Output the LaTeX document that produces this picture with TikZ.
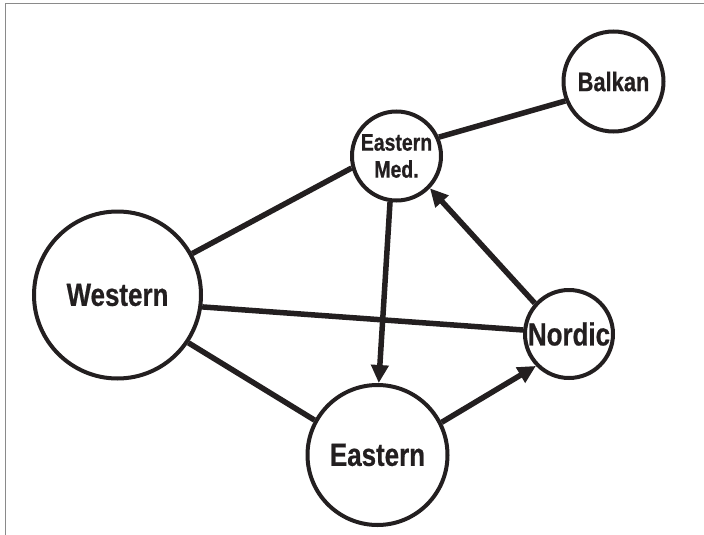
\documentclass[tikz,border=0pt]{standalone}
\usepackage{fontspec}
\setmainfont{Liberation Sans}[FakeStretch=0.81, BoldFeatures={FakeBold=0.6}]
\usetikzlibrary{arrows.meta}
\definecolor{ink}{HTML}{231F20}
\definecolor{framegray}{HTML}{8A8A8A}
\tikzset{
  region/.style={circle, draw=ink, line width=4pt, inner sep=0pt, text=ink, font=\bfseries, align=center},
  link/.style={draw=ink, line width=5.5pt},
  flow/.style={link, -{Triangle[length=18pt,width=17pt]}},
}
\begin{document}
\begin{tikzpicture}[x=1pt,y=-1pt]
\useasboundingbox (0,0) rectangle (704,535);
\coordinate (f1) at (704,4);
\coordinate (f2) at (5,4);
\coordinate (f3) at (5,535);
\draw[framegray, line width=1pt] (f1) -- (f2) -- (f3);

\node[region, minimum size=167pt, font=\bfseries\fontsize{32}{36}\selectfont] (west) at (117.5,295) {Western};
\node[region, minimum size=140pt, font=\bfseries\fontsize{32}{36}\selectfont] (east) at (377.5,455) {Eastern};
\node[region, minimum size=88pt, font=\bfseries\fontsize{32}{36}\selectfont] (nord) at (569,334) {Nordic};
\node[region, minimum size=89pt, font=\bfseries\fontsize{24}{27}\selectfont] (emed) at (396.5,156) {Eastern\\Med.};
\node[region, minimum size=100pt, font=\bfseries\fontsize{27}{30}\selectfont] (balk) at (613.5,81.5) {Balkan};

\draw[link] (west.29) -- (emed.195);
\draw[link] (west.-8) -- (nord.175);
\draw[link] (west.-34) -- (east.151);
\draw[link] (emed.24) -- (balk.202);
\draw[flow] (emed.-98) -- (east.89);
\draw[flow] (nord.138) -- (emed.-44);
\draw[flow] (east.27) -- (nord.224);
\end{tikzpicture}
\end{document}
